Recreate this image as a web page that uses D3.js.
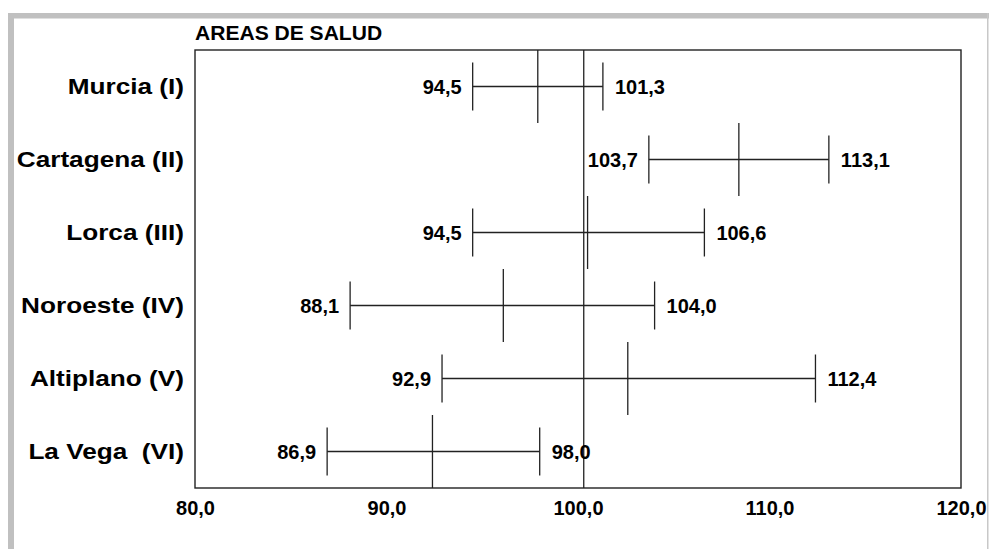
<!DOCTYPE html>
<html>
<head>
<meta charset="utf-8">
<script src="https://cdn.jsdelivr.net/npm/d3@7"></script>
<style>
  html, body { margin: 0; padding: 0; background: #fff; }
  svg { display: block; }
  text { font-family: Arial, "Liberation Sans", sans-serif; font-weight: bold; fill: #000; }
</style>
</head>
<body>
<svg id="chart" width="989" height="549"></svg>
<script>
// ---- data ----
const categories = ["Murcia (I)", "Cartagena (II)", "Lorca (III)", "Noroeste (IV)", "Altiplano (V)", "La Vega  (VI)"];
const lowerValues = [94.5, 103.7, 94.5, 88.1, 92.9, 86.9];
const upperValues = [101.3, 113.1, 106.6, 104.0, 112.4, 98.0];
const centerValues = [97.9, 108.4, 100.5, 96.1, 102.6, 92.4];
const xTicks = [80, 90, 100, 110, 120];
const referenceValue = 100.3;
const title = "AREAS DE SALUD";

// ---- layout ----
const W = 989, H = 549;
const plot = { left: 195, top: 50, right: 961, bottom: 488 };

const svg = d3.select("#chart");
svg.append("rect").attr("width", W).attr("height", H).attr("fill", "#fff");

// outer gray frame
svg.append("rect").attr("x", 8).attr("y", 13).attr("width", W - 8).attr("height", 5.5).attr("fill", "#c0c0c0");
svg.append("rect").attr("x", 8).attr("y", 13).attr("width", 6).attr("height", H - 13).attr("fill", "#c0c0c0");
svg.append("rect").attr("x", 987).attr("y", 13).attr("width", 1.5).attr("height", H - 13).attr("fill", "#c8c8c8");

const x = d3.scaleLinear().domain([80, 120]).range([plot.left, plot.right]);
const y = d3.scaleBand().domain(categories).range([plot.top, plot.bottom]).padding(0);
const bw = y.bandwidth();
const fmt = v => d3.format(".1f")(v).replace(".", ",");

// plot frame
svg.append("rect")
  .attr("x", plot.left).attr("y", plot.top)
  .attr("width", plot.right - plot.left).attr("height", plot.bottom - plot.top)
  .attr("fill", "none").attr("stroke", "#222").attr("stroke-width", 1.4);

// title
svg.append("text")
  .attr("transform", `translate(${plot.left},39.5) scale(1.08,1)`)
  .attr("font-size", "19.5px").text(title);

// x axis (labels only)
const xAxis = d3.axisBottom(x).tickValues(xTicks).tickFormat(fmt).tickSize(0).tickPadding(0);
const gx = svg.append("g").attr("transform", `translate(0,${plot.bottom})`).call(xAxis);
gx.select(".domain").remove();
gx.selectAll("text")
  .attr("y", 27).attr("dy", null)
  .attr("font-size", "20px")
  .style("font-family", "Arial, 'Liberation Sans', sans-serif")
  .style("font-weight", "bold")
  .attr("fill", "#000");

// y axis (category labels)
const yAxis = d3.axisLeft(y).tickSize(0).tickPadding(0);
const gy = svg.append("g").call(yAxis);
gy.select(".domain").remove();
gy.selectAll(".tick text").remove();
gy.selectAll(".tick").append("text")
  .attr("transform", "translate(184,7.8) scale(1.19,1)")
  .attr("text-anchor", "end")
  .attr("font-size", "22px")
  .style("white-space", "pre")
  .text(d => d);

// reference line
svg.append("line")
  .attr("x1", x(referenceValue)).attr("x2", x(referenceValue))
  .attr("y1", plot.top).attr("y2", plot.bottom)
  .attr("stroke", "#222").attr("stroke-width", 1.3);

const rows = categories.map((c, i) => ({ c, lo: lowerValues[i], hi: upperValues[i], mid: centerValues[i] }));
const g = svg.append("g").attr("stroke", "#222").attr("stroke-width", 1.3);
const row = g.selectAll("g.row").data(rows).join("g").attr("class", "row");

row.append("line")
  .attr("x1", d => x(d.lo)).attr("x2", d => x(d.hi))
  .attr("y1", d => y(d.c) + bw / 2).attr("y2", d => y(d.c) + bw / 2);
row.append("line")
  .attr("x1", d => x(d.lo)).attr("x2", d => x(d.lo))
  .attr("y1", d => y(d.c) + bw / 2 - 24).attr("y2", d => y(d.c) + bw / 2 + 24);
row.append("line")
  .attr("x1", d => x(d.hi)).attr("x2", d => x(d.hi))
  .attr("y1", d => y(d.c) + bw / 2 - 24).attr("y2", d => y(d.c) + bw / 2 + 24);
row.append("line")
  .attr("x1", d => x(d.mid)).attr("x2", d => x(d.mid))
  .attr("y1", d => y(d.c)).attr("y2", d => y(d.c) + bw);

// value labels
const lab = svg.append("g");
lab.selectAll("text.lo").data(rows).join("text").attr("class", "lo")
  .attr("x", d => x(d.lo) - 11).attr("y", d => y(d.c) + bw / 2 + 7.5)
  .attr("text-anchor", "end").attr("font-size", "20px").text(d => fmt(d.lo));
lab.selectAll("text.hi").data(rows).join("text").attr("class", "hi")
  .attr("x", d => x(d.hi) + 12).attr("y", d => y(d.c) + bw / 2 + 7.5)
  .attr("text-anchor", "start").attr("font-size", "20px").text(d => fmt(d.hi));
</script>
</body>
</html>
